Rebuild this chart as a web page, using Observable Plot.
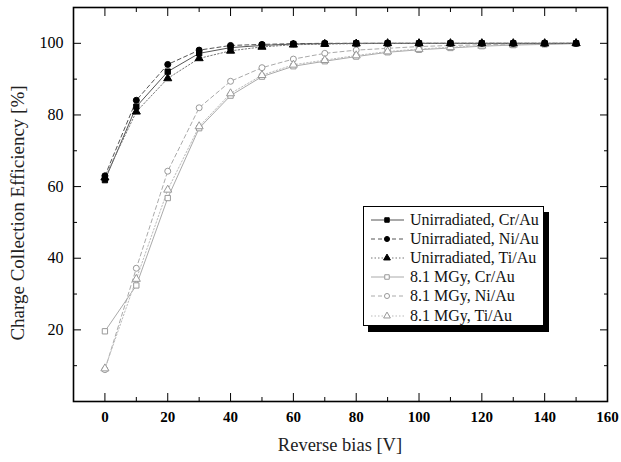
<!DOCTYPE html>
<html><head><meta charset="utf-8">
<script src="https://cdn.jsdelivr.net/npm/d3@7"></script>
<script src="https://cdn.jsdelivr.net/npm/@observablehq/plot@0.6"></script>
<style>
body{margin:0;background:#fff;}
#wrap{position:relative;width:621px;height:462px;font-family:"Liberation Serif","Times New Roman",serif;}
#legend{position:absolute;left:363px;top:206px;width:181px;height:120px;border:1px solid #000;background:#fff;box-shadow:5px 6px 0 #000;box-sizing:border-box;padding-top:3px;}
.row{display:flex;align-items:center;height:19.2px;font-size:16px;color:#111;white-space:nowrap;}
.row svg{flex:none;}
</style></head><body><div id="wrap"></div>
<script>
// ---- data ----
const bias = [0, 10, 20, 30, 40, 50, 60, 70, 80, 90, 100, 110, 120, 130, 140, 150];
const unirrCr = [61.8, 82.3, 92.1, 97.2, 98.8, 99.4, 99.8, 99.9, 100, 100, 100, 100, 100, 100, 100, 100];
const unirrNi = [63.0, 84.1, 94.1, 98.1, 99.4, 99.7, 99.9, 100, 100, 100, 100, 100, 100, 100, 100, 100];
const unirrTi = [62.5, 80.9, 90.2, 95.8, 97.9, 99.0, 99.6, 99.8, 99.9, 100, 100, 100, 100, 100, 100, 100];
const irrCr = [19.6, 32.4, 56.8, 76.3, 85.4, 90.7, 93.6, 95.0, 96.3, 97.5, 98.2, 98.7, 99.2, 99.5, 99.7, 99.9];
const irrNi = [8.9, 37.2, 64.3, 82.0, 89.4, 93.2, 95.6, 97.2, 98.1, 98.6, 99.1, 99.4, 99.6, 99.8, 99.9, 100];
const irrTi = [9.2, 34.2, 59.1, 76.8, 86.0, 91.1, 94.0, 95.3, 96.6, 97.7, 98.4, 98.9, 99.3, 99.6, 99.8, 100];
const seriesNames = ["Unirradiated, Cr/Au", "Unirradiated, Ni/Au", "Unirradiated, Ti/Au",
                     "8.1 MGy, Cr/Au", "8.1 MGy, Ni/Au", "8.1 MGy, Ti/Au"];
const seriesValues = [unirrCr, unirrNi, unirrTi, irrCr, irrNi, irrTi];
const xMajorTicks = [0, 20, 40, 60, 80, 100, 120, 140, 160];
const xMinorTicks = [-10, 10, 30, 50, 70, 90, 110, 130, 150];
const yMajorTicks = [20, 40, 60, 80, 100];
const yMinorTicks = [10, 30, 50, 70, 90];

// ---- styles ----
const styles = [
  {symbol: "square",   fill: "#000", stroke: "#000", line: "#555", dash: null},
  {symbol: "circle",   fill: "#000", stroke: "#000", line: "#555", dash: "4,3"},
  {symbol: "triangle", fill: "#000", stroke: "#000", line: "#777", dash: "1.5,2"},
  {symbol: "square",   fill: "#fff", stroke: "#999", line: "#aaa", dash: null},
  {symbol: "circle",   fill: "#fff", stroke: "#999", line: "#aaa", dash: "4,3"},
  {symbol: "triangle", fill: "#fff", stroke: "#999", line: "#bbb", dash: "1.5,2"}
];

const rows = [];
seriesNames.forEach((name, s) => seriesValues[s].forEach((v, i) => rows.push({series: name, s, bias: bias[i], cce: v})));

const marks = [];
[3,4,5,0,1,2].forEach(s => {
  const d = rows.filter(r => r.s === s);
  marks.push(Plot.line(d, {x: "bias", y: "cce", stroke: styles[s].line, strokeWidth: 1, strokeDasharray: styles[s].dash}));
});
[3,4,5,0,1,2].forEach(s => {
  const d = rows.filter(r => r.s === s);
  marks.push(Plot.dot(d, {x: "bias", y: "cce", symbol: styles[s].symbol, r: 3, fill: styles[s].fill, stroke: styles[s].stroke, strokeWidth: 1}));
});

marks.push(
  Plot.axisX(xMajorTicks, {anchor: "bottom", tickSize: -8, tickPadding: 18, fontWeight: "bold", fontSize: 15, label: null}),
  Plot.axisX(xMinorTicks, {anchor: "bottom", tickSize: -4, tickFormat: () => "", label: null}),
  Plot.axisX(xMajorTicks, {anchor: "top", tickSize: -8, tickFormat: () => "", label: null}),
  Plot.axisX(xMinorTicks, {anchor: "top", tickSize: -4, tickFormat: () => "", label: null}),
  Plot.axisY(yMajorTicks, {anchor: "left", tickSize: -8, tickPadding: 18, fontSize: 16, label: null}),
  Plot.axisY(yMinorTicks, {anchor: "left", tickSize: -4, tickFormat: () => "", label: null}),
  Plot.axisY(yMajorTicks, {anchor: "right", tickSize: -8, tickFormat: () => "", label: null}),
  Plot.axisY(yMinorTicks, {anchor: "right", tickSize: -4, tickFormat: () => "", label: null}),
  Plot.frame({stroke: "#000", strokeWidth: 1.6})
);

const chart = Plot.plot({
  width: 621, height: 462,
  marginLeft: 73, marginRight: 14, marginTop: 7, marginBottom: 61,
  style: {fontFamily: "'Liberation Serif','Times New Roman',serif", color: "#000", background: "#fff"},
  x: {domain: [-10, 160]},
  y: {domain: [0, 110]},
  marks
});

// axis titles
const svg = d3.select(chart);
svg.append("text").attr("x", 340).attr("y", 451).attr("text-anchor", "middle")
  .attr("font-size", 18.5).attr("fill", "#222").text("Reverse bias [V]");
svg.append("text").attr("transform", "translate(24,213) rotate(-90)").attr("text-anchor", "middle")
  .attr("font-size", 19).attr("fill", "#222").text("Charge Collection Efficiency [%]");

const wrap = document.getElementById("wrap");
wrap.appendChild(chart);

// legend
const legend = document.createElement("div");
legend.id = "legend";
const symMap = {square: d3.symbolSquare, circle: d3.symbolCircle, triangle: d3.symbolTriangle};
seriesNames.forEach((name, s) => {
  const row = document.createElement("div");
  row.className = "row";
  const ls = d3.create("svg").attr("width", 46).attr("height", 18);
  ls.append("line").attr("x1", 7).attr("x2", 40).attr("y1", 9).attr("y2", 9)
    .attr("stroke", styles[s].line).attr("stroke-dasharray", styles[s].dash);
  ls.append("path").attr("transform", "translate(23,9)")
    .attr("d", d3.symbol(symMap[styles[s].symbol], 20)())
    .attr("fill", styles[s].fill).attr("stroke", styles[s].stroke);
  row.appendChild(ls.node());
  const t = document.createElement("span");
  t.textContent = name;
  row.appendChild(t);
  legend.appendChild(row);
});
wrap.appendChild(legend);
</script>
</body></html>
